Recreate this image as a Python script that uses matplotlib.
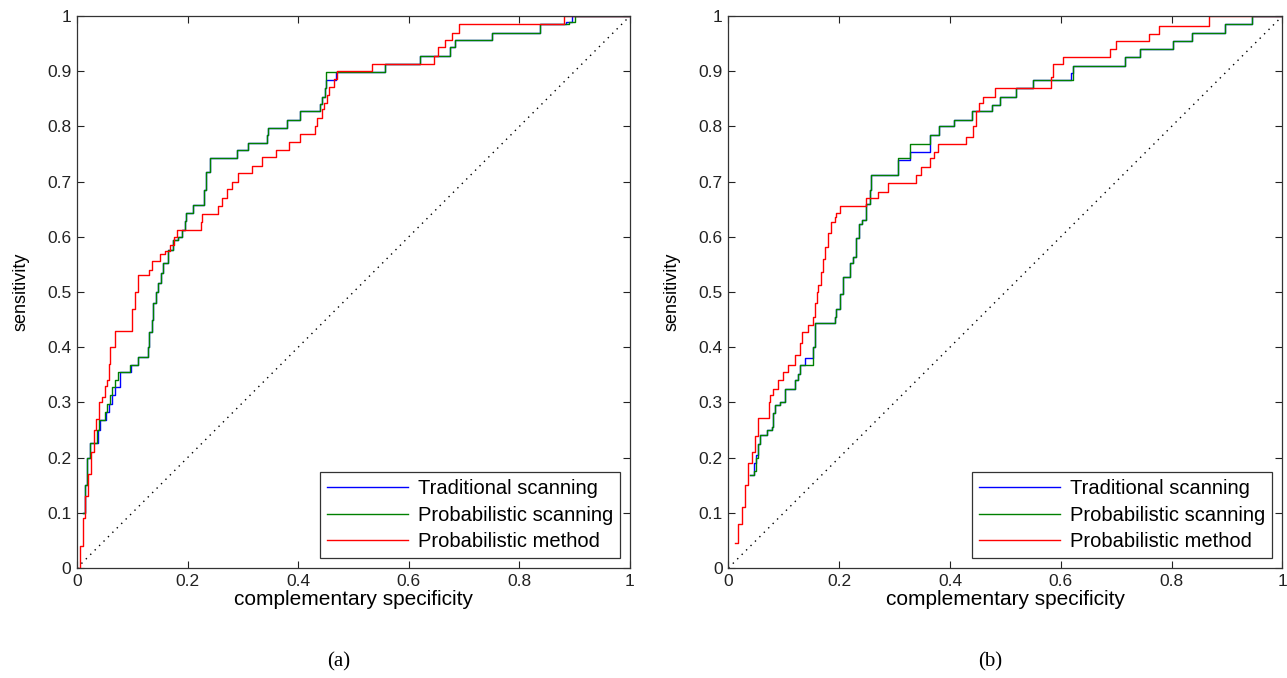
import matplotlib
matplotlib.use("Agg")
import matplotlib.pyplot as plt
from matplotlib.ticker import FixedLocator, FixedFormatter

# ---------------- data (ROC curves, left end of each horizontal run) ----------------
# Panel (a)
a_trad_x = [0.010, 0.014, 0.018, 0.024, 0.038, 0.041, 0.052, 0.057, 0.063, 0.068, 0.077, 0.097,
            0.111, 0.129, 0.131, 0.135, 0.138, 0.142, 0.147, 0.152, 0.156, 0.165, 0.174, 0.183,
            0.189, 0.195, 0.198, 0.210, 0.230, 0.233, 0.240, 0.289, 0.310, 0.343, 0.345, 0.380,
            0.403, 0.439, 0.443, 0.448, 0.451, 0.469, 0.557, 0.620, 0.674, 0.683, 0.750, 0.837,
            0.884, 0.895, 1.0]
a_trad_y = [0.100, 0.150, 0.199, 0.227, 0.250, 0.268, 0.283, 0.298, 0.313, 0.328, 0.355, 0.368,
            0.383, 0.400, 0.428, 0.450, 0.480, 0.500, 0.516, 0.535, 0.552, 0.576, 0.594, 0.600,
            0.613, 0.628, 0.643, 0.658, 0.685, 0.718, 0.742, 0.757, 0.770, 0.784, 0.797, 0.812,
            0.827, 0.840, 0.854, 0.869, 0.884, 0.899, 0.913, 0.928, 0.943, 0.957, 0.970, 0.985,
            0.990, 1.000, 1.0]

a_pscan_x = [0.010, 0.014, 0.018, 0.024, 0.036, 0.039, 0.050, 0.055, 0.060, 0.063, 0.068, 0.075,
             0.096, 0.111, 0.129, 0.131, 0.135, 0.138, 0.142, 0.147, 0.152, 0.156, 0.165, 0.174,
             0.183, 0.189, 0.195, 0.198, 0.210, 0.230, 0.233, 0.240, 0.289, 0.310, 0.343, 0.345,
             0.380, 0.403, 0.439, 0.443, 0.448, 0.451, 0.557, 0.620, 0.674, 0.683, 0.750, 0.837,
             0.889, 0.900, 1.0]
a_pscan_y = [0.100, 0.150, 0.199, 0.227, 0.250, 0.268, 0.283, 0.298, 0.313, 0.328, 0.340, 0.355,
             0.368, 0.383, 0.400, 0.428, 0.450, 0.480, 0.500, 0.516, 0.535, 0.552, 0.576, 0.594,
             0.600, 0.613, 0.628, 0.643, 0.658, 0.685, 0.718, 0.742, 0.757, 0.770, 0.784, 0.797,
             0.812, 0.827, 0.840, 0.854, 0.869, 0.899, 0.913, 0.928, 0.943, 0.957, 0.970, 0.985,
             0.990, 1.000, 1.0]

a_pmeth_x = [0.000, 0.005, 0.010, 0.015, 0.020, 0.025, 0.030, 0.035, 0.040, 0.045, 0.050, 0.054,
             0.058, 0.060, 0.068, 0.100, 0.105, 0.111, 0.130, 0.135, 0.150, 0.159, 0.168, 0.175,
             0.180, 0.224, 0.226, 0.255, 0.262, 0.271, 0.280, 0.292, 0.316, 0.335, 0.359, 0.383,
             0.404, 0.431, 0.434, 0.443, 0.446, 0.452, 0.455, 0.464, 0.470, 0.534, 0.646, 0.652,
             0.665, 0.679, 0.691, 0.881, 1.0]
a_pmeth_y = [0.000, 0.040, 0.090, 0.130, 0.170, 0.210, 0.250, 0.270, 0.300, 0.310, 0.330, 0.340,
             0.370, 0.400, 0.430, 0.470, 0.500, 0.530, 0.540, 0.556, 0.568, 0.574, 0.586, 0.600,
             0.613, 0.627, 0.641, 0.656, 0.671, 0.686, 0.700, 0.715, 0.728, 0.744, 0.757, 0.772,
             0.786, 0.801, 0.816, 0.831, 0.843, 0.857, 0.871, 0.886, 0.900, 0.913, 0.928, 0.943,
             0.957, 0.970, 0.985, 1.000, 1.0]

# Panel (b)
b_trad_x = [0.039, 0.046, 0.050, 0.054, 0.057, 0.069, 0.078, 0.081, 0.084, 0.093, 0.102, 0.120,
            0.126, 0.130, 0.138, 0.153, 0.156, 0.192, 0.195, 0.201, 0.207, 0.219, 0.225, 0.230,
            0.236, 0.242, 0.249, 0.255, 0.258, 0.306, 0.327, 0.363, 0.381, 0.408, 0.439, 0.475,
            0.490, 0.520, 0.550, 0.618, 0.622, 0.716, 0.743, 0.803, 0.836, 0.896, 0.945, 1.0]
b_trad_y = [0.168, 0.190, 0.205, 0.225, 0.241, 0.250, 0.256, 0.280, 0.295, 0.301, 0.325, 0.340,
            0.352, 0.367, 0.380, 0.400, 0.443, 0.455, 0.470, 0.497, 0.527, 0.552, 0.564, 0.597,
            0.624, 0.630, 0.660, 0.685, 0.712, 0.739, 0.754, 0.784, 0.800, 0.812, 0.827, 0.839,
            0.854, 0.869, 0.884, 0.897, 0.910, 0.925, 0.940, 0.954, 0.970, 0.985, 1.000, 1.0]

b_pscan_x = [0.039, 0.046, 0.050, 0.054, 0.057, 0.069, 0.078, 0.081, 0.084, 0.093, 0.102, 0.120,
             0.126, 0.130, 0.153, 0.156, 0.192, 0.195, 0.201, 0.207, 0.219, 0.225, 0.230, 0.236,
             0.242, 0.249, 0.255, 0.258, 0.306, 0.327, 0.363, 0.381, 0.408, 0.439, 0.475, 0.490,
             0.520, 0.550, 0.622, 0.716, 0.743, 0.803, 0.836, 0.896, 0.945, 1.0]
b_pscan_y = [0.168, 0.175, 0.200, 0.225, 0.241, 0.250, 0.256, 0.280, 0.295, 0.301, 0.325, 0.340,
             0.352, 0.367, 0.400, 0.443, 0.455, 0.470, 0.497, 0.527, 0.552, 0.564, 0.597, 0.624,
             0.630, 0.660, 0.685, 0.712, 0.742, 0.769, 0.784, 0.800, 0.812, 0.827, 0.839, 0.854,
             0.869, 0.884, 0.910, 0.925, 0.940, 0.954, 0.970, 0.985, 1.000, 1.0]

b_pmeth_x = [0.012, 0.018, 0.024, 0.030, 0.036, 0.042, 0.048, 0.054, 0.073, 0.075, 0.081, 0.090,
             0.099, 0.108, 0.121, 0.130, 0.132, 0.144, 0.153, 0.156, 0.160, 0.162, 0.168, 0.171,
             0.174, 0.180, 0.186, 0.192, 0.195, 0.201, 0.249, 0.270, 0.288, 0.339, 0.348, 0.363,
             0.372, 0.378, 0.429, 0.441, 0.447, 0.453, 0.459, 0.481, 0.583, 0.586, 0.604, 0.688,
             0.700, 0.760, 0.778, 0.868, 1.0]
b_pmeth_y = [0.045, 0.080, 0.110, 0.150, 0.190, 0.210, 0.240, 0.271, 0.300, 0.313, 0.325, 0.340,
             0.355, 0.368, 0.386, 0.407, 0.428, 0.440, 0.455, 0.480, 0.500, 0.513, 0.537, 0.560,
             0.582, 0.606, 0.627, 0.636, 0.643, 0.655, 0.670, 0.682, 0.698, 0.712, 0.727, 0.742,
             0.754, 0.769, 0.781, 0.800, 0.827, 0.842, 0.854, 0.869, 0.890, 0.913, 0.925, 0.940,
             0.954, 0.967, 0.982, 1.000, 1.0]

labels = ["Traditional scanning", "Probabilistic scanning", "Probabilistic method"]
colors = ["#0000ff", "#008000", "#ff0000"]
x_ticks = [0, 0.2, 0.4, 0.6, 0.8, 1]
x_ticklabels = ["0", "0.2", "0.4", "0.6", "0.8", "1"]
y_ticks = [0, 0.1, 0.2, 0.3, 0.4, 0.5, 0.6, 0.7, 0.8, 0.9, 1]
y_ticklabels = ["0", "0.1", "0.2", "0.3", "0.4", "0.5", "0.6", "0.7", "0.8", "0.9", "1"]
panel_captions = ["(a)", "(b)"]

# ---------------- figure ----------------
plt.rcParams["font.family"] = ["Liberation Sans", "DejaVu Sans"]
fig = plt.figure(figsize=(12.87, 6.78), dpi=100)
fig.patch.set_facecolor("white")

axes_rects = [
    [77 / 1287, (678 - 568) / 678, 553 / 1287, 552 / 678],
    [728.4 / 1287, (678 - 568) / 678, 554 / 1287, 552 / 678],
]
panels = [
    [(a_trad_x, a_trad_y), (a_pscan_x, a_pscan_y), (a_pmeth_x, a_pmeth_y)],
    [(b_trad_x, b_trad_y), (b_pscan_x, b_pscan_y), (b_pmeth_x, b_pmeth_y)],
]
caption_x = [339 / 1287, 990 / 1287]

for rect, series, cap, cx in zip(axes_rects, panels, panel_captions, caption_x):
    ax = fig.add_axes(rect)
    ax.plot([0, 1], [0, 1], linestyle=(0, (1, 3.5)), color="black", linewidth=1.0)
    for (xs, ys), lab, col in zip(series, labels, colors):
        ax.plot(xs, ys, drawstyle="steps-post", color=col, linewidth=1.0, label=lab)
    ax.set_xlim(0, 1)
    ax.set_ylim(0, 1)
    ax.xaxis.set_major_locator(FixedLocator(x_ticks))
    ax.xaxis.set_major_formatter(FixedFormatter(x_ticklabels))
    ax.yaxis.set_major_locator(FixedLocator(y_ticks))
    ax.yaxis.set_major_formatter(FixedFormatter(y_ticklabels))
    ax.tick_params(direction="in", top=True, right=True, length=5, width=0.8,
                   labelsize=12.5, pad=4, colors="#222222")
    for sp in ax.spines.values():
        sp.set_color("#333333")
        sp.set_linewidth(0.9)
    ax.set_xlabel("complementary specificity", fontsize=15, labelpad=1)
    ax.set_ylabel("sensitivity", fontsize=13, labelpad=13)
    leg = ax.legend(loc="lower right", fontsize=14.5, handlelength=4.0, handletextpad=0.5,
                    fancybox=False, framealpha=1, edgecolor="#333333",
                    borderaxespad=0.5, labelspacing=0.36, borderpad=0.35)
    leg.get_frame().set_linewidth(0.9)
    fig.text(cx, 1 - 662 / 678, cap, ha="center", va="center",
             fontsize=15, family=["Liberation Serif", "DejaVu Serif"])

fig.savefig("out.png", dpi=100, facecolor="white")
